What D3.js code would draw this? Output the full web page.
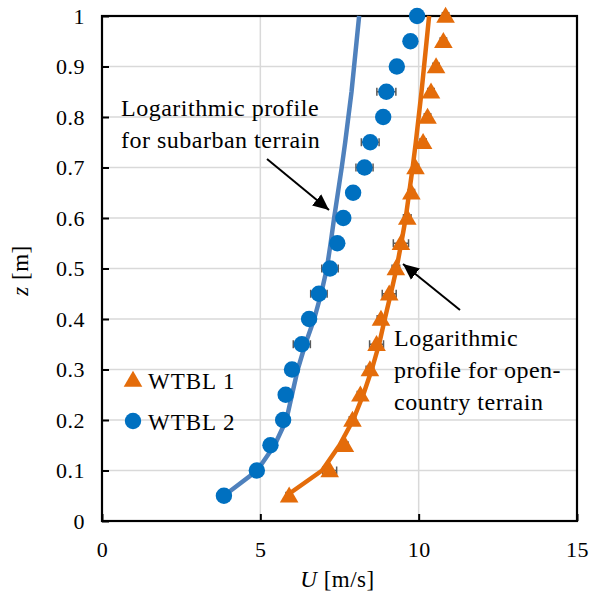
<!DOCTYPE html>
<html>
<head>
<meta charset="utf-8">
<script src="https://cdn.jsdelivr.net/npm/d3@7"></script>
<style>
    body { margin: 0; background: #fff; }
    svg text { font-family: 'Liberation Serif', 'Times New Roman', Times, 'DejaVu Serif', serif; fill: #000; }
</style>
</head>
<body>
<svg id="chart" width="590" height="599"></svg>
<script>
// heights of the measurement points [m]
const zLevels = [0.05, 0.1, 0.15, 0.2, 0.25, 0.3, 0.35, 0.4, 0.45, 0.5,
                 0.55, 0.6, 0.65, 0.7, 0.75, 0.8, 0.85, 0.9, 0.95, 1.0]

// WTBL 1 (triangles) mean speed and error
const wtbl1U   = [5.91, 7.19, 7.67, 7.91, 8.16, 8.46, 8.67, 8.81, 9.07, 9.28,
                  9.44, 9.64, 9.77, 9.90, 10.14, 10.28, 10.39, 10.55, 10.78, 10.85]
const wtbl1Err = [0.10, 0.22, 0.10, 0.10, 0.10, 0.12, 0.22, 0.12, 0.22, 0.12,
                  0.24, 0.12, 0.10, 0.10, 0.10, 0.10, 0.10, 0.10, 0.10, 0.10]

// WTBL 2 (circles) mean speed and error
const wtbl2U   = [3.85, 4.89, 5.32, 5.72, 5.80, 6.00, 6.31, 6.54, 6.85, 7.20,
                  7.43, 7.62, 7.93, 8.29, 8.47, 8.88, 8.98, 9.31, 9.74, 9.95]
const wtbl2Err = [0.10, 0.15, 0.15, 0.15, 0.20, 0.15, 0.27, 0.20, 0.26, 0.26,
                  0.15, 0.15, 0.15, 0.27, 0.28, 0.15, 0.30, 0.15, 0.10, 0.10]

// logarithmic profiles
const openCountryU = [5.82, 6.95, 7.50, 7.93, 8.25, 8.52, 8.75, 8.93, 9.12, 9.30,
                      9.45, 9.59, 9.70, 9.81, 9.91, 10.00, 10.09, 10.17, 10.25, 10.33]
const suburbanU    = [3.85, 4.90, 5.45, 5.82, 6.00, 6.18, 6.42, 6.70, 6.92, 7.10,
                      7.22, 7.33, 7.45, 7.57, 7.68, 7.78, 7.88, 7.96, 8.04, 8.12]

const xTicks = [0, 5, 10, 15]
const yTicks = [0, 0.1, 0.2, 0.3, 0.4, 0.5, 0.6, 0.7, 0.8, 0.9, 1]

const ORANGE = '#e46c0a', BLUE = '#0070c0', LINE_BLUE = '#4f81bd'
const margin = { left: 102, right: 13, top: 16, bottom: 78 }
const width = 590 - margin.left - margin.right
const height = 599 - margin.top - margin.bottom

const svg = d3.select('#chart')
const g = svg.append('g').attr('transform', `translate(${margin.left},${margin.top})`)

const x = d3.scaleLinear().domain([0, 15]).range([0, width])
const y = d3.scaleLinear().domain([0, 1]).range([height, 0])

// gridlines
g.append('g').selectAll('line').data(yTicks.slice(1, -1)).enter().append('line')
    .attr('x1', 0).attr('x2', width)
    .attr('y1', d => y(d)).attr('y2', d => y(d))
    .attr('stroke', '#d9d9d9').attr('stroke-width', 1.5)
g.append('g').selectAll('line').data(xTicks.slice(1, -1)).enter().append('line')
    .attr('y1', 0).attr('y2', height)
    .attr('x1', d => x(d)).attr('x2', d => x(d))
    .attr('stroke', '#d9d9d9').attr('stroke-width', 1.5)

// axes, ticks pointing inwards
const yAxis = g.append('g')
    .call(d3.axisLeft(y).tickValues(yTicks).tickSize(-7).tickPadding(17)
        .tickFormat(d => d === 0 || d === 1 ? d : d3.format('.1f')(d)))
const xAxis = g.append('g')
    .attr('transform', `translate(0,${height})`)
    .call(d3.axisBottom(x).tickValues(xTicks).tickSize(-7).tickPadding(20))
;[yAxis, xAxis].forEach(ax => {
    ax.attr('font-family', null).attr('font-size', null)
    ax.select('.domain').remove()
    ax.selectAll('line').attr('stroke', '#000').attr('stroke-width', 2)
    ax.selectAll('text').style('font-size', '22px').style('letter-spacing', '0.5px')
})

// box
g.append('rect').attr('width', width).attr('height', height)
    .attr('fill', 'none').attr('stroke', '#000').attr('stroke-width', 2.2)

// axis titles
svg.append('text').attr('x', margin.left + width / 2 - 2).attr('y', 587)
    .attr('text-anchor', 'middle').style('font-size', '23px').style('letter-spacing', '0.5px')
    .html('<tspan font-style="italic">U</tspan> [m/s]')
svg.append('text')
    .attr('transform', `translate(28,${margin.top + height / 2 + 2}) rotate(-90)`)
    .attr('text-anchor', 'middle').style('font-size', '23px').style('letter-spacing', '0.5px')
    .html('<tspan font-style="italic">z</tspan> [m]')

// error bars
const errorBars = (values, errs) => {
    const eg = g.append('g').attr('stroke', '#595959').attr('stroke-width', 1.5)
    zLevels.forEach((z, i) => {
        const x0 = x(values[i] - errs[i]), x1 = x(values[i] + errs[i]), yy = y(z)
        eg.append('line').attr('x1', x0).attr('x2', x1).attr('y1', yy).attr('y2', yy)
        eg.append('line').attr('x1', x0).attr('x2', x0).attr('y1', yy - 4).attr('y2', yy + 4)
        eg.append('line').attr('x1', x1).attr('x2', x1).attr('y1', yy - 4).attr('y2', yy + 4)
    })
}
errorBars(wtbl1U, wtbl1Err)
errorBars(wtbl2U, wtbl2Err)

// log profile lines
const line = vals => d3.line().x((d, i) => x(vals[i])).y(d => y(d))(zLevels)
g.append('path').attr('d', line(openCountryU))
    .attr('fill', 'none').attr('stroke', ORANGE).attr('stroke-width', 4.5)
    .attr('stroke-linejoin', 'round')
g.append('path').attr('d', line(suburbanU))
    .attr('fill', 'none').attr('stroke', LINE_BLUE).attr('stroke-width', 4.5)
    .attr('stroke-linejoin', 'round')

// markers
const tri = d3.symbol().type(d3.symbolTriangle).size(150)
g.append('g').selectAll('path').data(zLevels).enter().append('path')
    .attr('d', tri)
    .attr('transform', (d, i) => `translate(${x(wtbl1U[i])},${y(d) + 1.5})`)
    .attr('fill', ORANGE)
g.append('g').selectAll('circle').data(zLevels).enter().append('circle')
    .attr('cx', (d, i) => x(wtbl2U[i])).attr('cy', d => y(d)).attr('r', 8.2)
    .attr('fill', BLUE)

// annotations
const addText = (lines, x0, y0, lh) => {
    const t = svg.append('text').style('font-size', '24px').style('letter-spacing', '0.5px')
    lines.forEach((s, i) => t.append('tspan').attr('x', x0).attr('y', y0 + i * lh).text(s))
}
addText(['Logarithmic profile', 'for subarban terrain'], 121, 116, 32)
addText(['Logarithmic', 'profile for open-', 'country terrain'], 394, 346, 32)

svg.append('defs').append('marker').attr('id', 'arrow')
    .attr('viewBox', '0 0 10 10').attr('refX', 10).attr('refY', 5)
    .attr('markerWidth', 8).attr('markerHeight', 8).attr('orient', 'auto')
    .append('path').attr('d', 'M0,0.5 L10,5 L0,9.5 Z').attr('fill', '#000')
svg.append('line').attr('x1', 267).attr('y1', 159).attr('x2', 329).attr('y2', 210)
    .attr('stroke', '#000').attr('stroke-width', 2).attr('marker-end', 'url(#arrow)')
svg.append('line').attr('x1', 460).attr('y1', 310).attr('x2', 403).attr('y2', 264)
    .attr('stroke', '#000').attr('stroke-width', 2).attr('marker-end', 'url(#arrow)')

// legend
const legend = svg.append('g')
legend.append('path').attr('d', tri).attr('transform', 'translate(133,381.5)').attr('fill', ORANGE)
legend.append('circle').attr('cx', 133).attr('cy', 421).attr('r', 8.2).attr('fill', BLUE)
legend.append('text').attr('x', 148).attr('y', 388.5).style('font-size', '23px')
    .style('letter-spacing', '1px').text('WTBL 1')
legend.append('text').attr('x', 148).attr('y', 429.5).style('font-size', '23px')
    .style('letter-spacing', '1px').text('WTBL 2')
</script>
</body>
</html>
